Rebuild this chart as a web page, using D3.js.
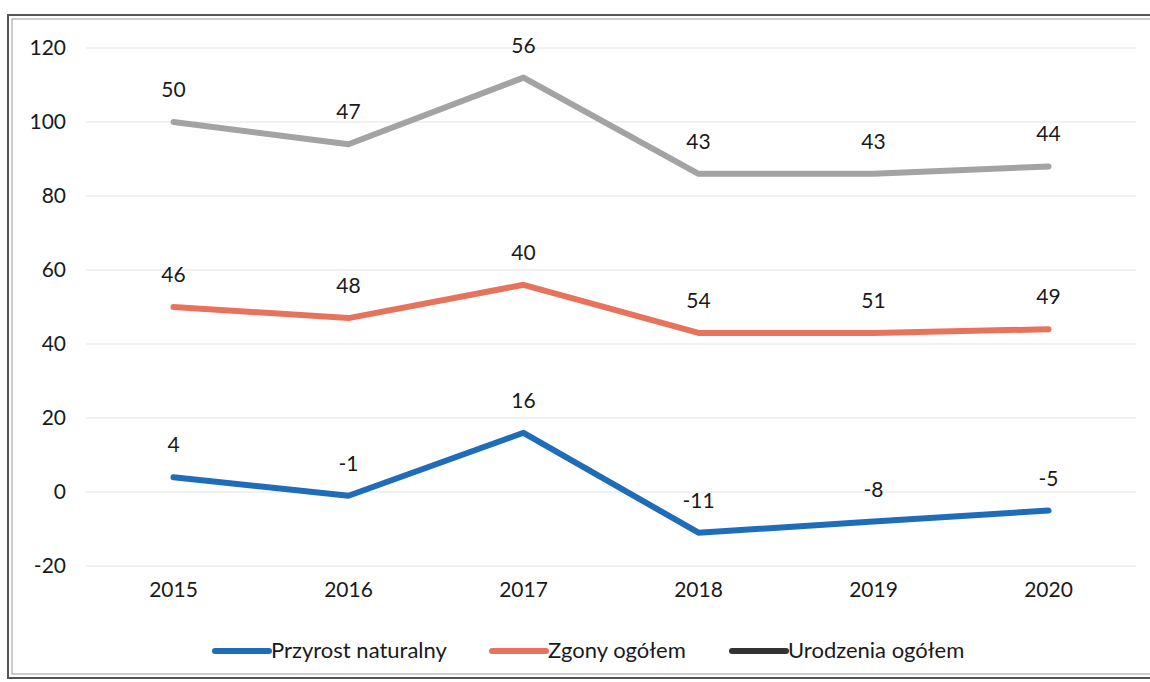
<!DOCTYPE html>
<html>
<head>
<meta charset="utf-8">
<script src="https://cdn.jsdelivr.net/npm/d3@7"></script>
<style>
  body { margin: 0; background: #fff; }
  svg { display: block; font-family: Lato, "Open Sans", sans-serif; }
</style>
</head>
<body>
<svg id="chart" width="1150" height="682"></svg>
<script>
// Data (stacked line chart)
const years = ["2015", "2016", "2017", "2018", "2019", "2020"];
const przyrost = [4, -1, 16, -11, -8, -5];
const zgony = [46, 48, 40, 54, 51, 49];
const urodzenia = [50, 47, 56, 43, 43, 44];
const seriesNames = ["Przyrost naturalny", "Zgony ogółem", "Urodzenia ogółem"];
const yTicks = [-20, 0, 20, 40, 60, 80, 100, 120];

const colors = ["#1f6cb8", "#e8735c", "#a3a3a3"];
const legendColors = ["#1f6cb8", "#e8735c", "#333333"];

const svg = d3.select("#chart");

// Outer double frame
svg.append("rect")
    .attr("x", 8).attr("y", 15)
    .attr("width", 1160).attr("height", 663)
    .attr("fill", "none").attr("stroke", "#555").attr("stroke-width", 2);
svg.append("rect")
    .attr("x", 12).attr("y", 19)
    .attr("width", 1160).attr("height", 655)
    .attr("fill", "none").attr("stroke", "#999").attr("stroke-width", 1);

// Scales
const x = d3.scaleBand()
    .domain(years)
    .range([86, 1136]);

const y = d3.scaleLinear()
    .domain([-20, 120])
    .range([566, 48]);

// Gridlines
svg.append("g")
    .selectAll("line")
    .data(yTicks)
    .enter()
    .append("line")
    .attr("x1", 86).attr("x2", 1136)
    .attr("y1", d => y(d)).attr("y2", d => y(d))
    .attr("stroke", "#ececec")
    .attr("stroke-width", 1.5);

// Y axis
const yAxis = svg.append("g")
    .attr("transform", "translate(66,0)")
    .call(d3.axisLeft(y).tickValues(yTicks).tickFormat(d => String(d)).tickSize(0).tickPadding(0));
yAxis.select(".domain").remove();
yAxis.selectAll("text")
    .attr("font-family", "Lato, sans-serif")
    .attr("font-size", 21)
    .attr("fill", "#1a1a1a");

// X axis
const xAxis = svg.append("g")
    .attr("transform", "translate(0,582)")
    .call(d3.axisBottom(x).tickSize(0).tickPadding(0));
xAxis.select(".domain").remove();
xAxis.selectAll("text")
    .attr("font-family", "Lato, sans-serif")
    .attr("font-size", 21)
    .attr("fill", "#1a1a1a");

// Stack the series (running sum from the first series upward)
const table = years.map((yr, i) => ({
    year: yr,
    "Przyrost naturalny": przyrost[i],
    "Zgony ogółem": zgony[i],
    "Urodzenia ogółem": urodzenia[i]
}));
const stacked = d3.stack().keys(seriesNames)(table);

const line = d3.line()
    .x(d => x(d.data.year) + x.bandwidth() / 2)
    .y(d => y(d[1]));

stacked.forEach((s, k) => {
    svg.append("path")
        .datum(s)
        .attr("d", line)
        .attr("fill", "none")
        .attr("stroke", colors[k])
        .attr("stroke-width", 6)
        .attr("stroke-linejoin", "round")
        .attr("stroke-linecap", "round");

    svg.append("g")
        .selectAll("text")
        .data(s)
        .enter()
        .append("text")
        .attr("x", d => x(d.data.year) + x.bandwidth() / 2)
        .attr("y", d => y(d[1]) - 25)
        .attr("text-anchor", "middle")
        .attr("font-size", 21)
        .attr("fill", "#1a1a1a")
        .text(d => d.data[s.key]);
});

// Legend
const legendX = [215, 492, 732];
const legend = svg.append("g");
seriesNames.forEach((name, k) => {
    legend.append("line")
        .attr("x1", legendX[k]).attr("x2", legendX[k] + 54)
        .attr("y1", 651).attr("y2", 651)
        .attr("stroke", legendColors[k])
        .attr("stroke-width", 6)
        .attr("stroke-linecap", "round");
    legend.append("text")
        .attr("x", legendX[k] + 56)
        .attr("y", 658)
        .attr("font-size", 22)
        .attr("fill", "#1a1a1a")
        .text(name);
});
</script>
</body>
</html>
